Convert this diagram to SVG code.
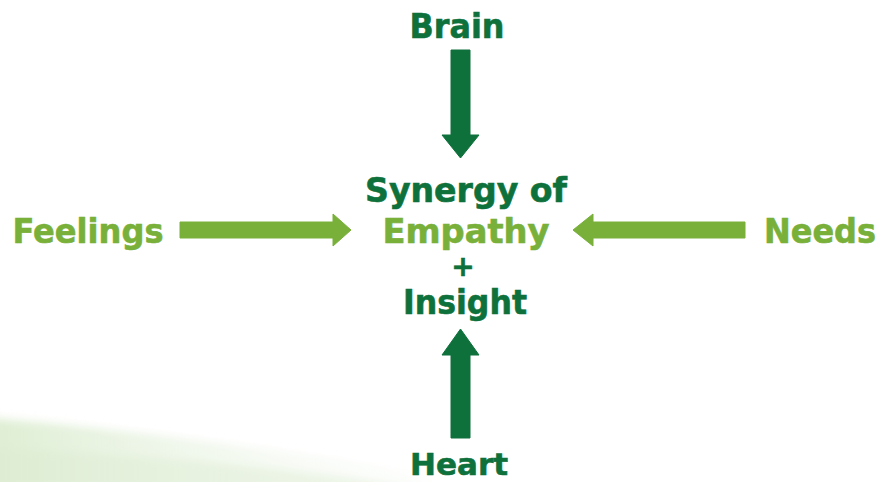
<svg xmlns="http://www.w3.org/2000/svg" width="881" height="482" viewBox="0 0 881 482">
  <defs>
    <linearGradient id="swoosh" x1="0" y1="0" x2="1" y2="0">
      <stop offset="0" stop-color="#d6e9c8" stop-opacity="0.8"/>
      <stop offset="0.45" stop-color="#e9f3e2" stop-opacity="0.5"/>
      <stop offset="1" stop-color="#ffffff" stop-opacity="0"/>
    </linearGradient>
    <filter id="soft" x="-10%" y="-50%" width="120%" height="200%">
      <feGaussianBlur stdDeviation="4"/>
    </filter>
    <style>
      .lbl { font-family: "DejaVu Sans", "Liberation Sans", sans-serif; font-weight: bold; text-anchor: middle; stroke-width: 0.6; }
      .dark { fill: #0e713c; stroke: #0e713c; }
      .light { fill: #78b03a; stroke: #78b03a; }
      polygon { stroke: none; }
    </style>
  </defs>

  <rect width="881" height="482" fill="#ffffff"/>
  <!-- soft background swoosh, lower left -->
  <g filter="url(#soft)">
    <path d="M-10,418 C120,428 300,452 540,490 L-10,490 Z" fill="url(#swoosh)"/>
    <path d="M-10,448 C150,455 300,468 430,490 L-10,490 Z" fill="#dcebd0" opacity="0.45"/>
  </g>

  <g id="center">
    <text class="lbl dark" x="466" y="202" font-size="33" textLength="202" lengthAdjust="spacingAndGlyphs">Synergy of</text>
    <text class="lbl light" x="466" y="243" font-size="33" textLength="167" lengthAdjust="spacingAndGlyphs">Empathy</text>
    <text class="lbl dark" x="463" y="276" font-size="28">+</text>
    <text class="lbl dark" x="465" y="314" font-size="33" textLength="124" lengthAdjust="spacingAndGlyphs">Insight</text>
  </g>

  <g id="brain">
    <text class="lbl dark" x="457" y="38" font-size="33" textLength="95" lengthAdjust="spacingAndGlyphs">Brain</text>
  </g>
  <g id="heart">
    <text class="lbl dark" x="459" y="475" font-size="31" textLength="98" lengthAdjust="spacingAndGlyphs">Heart</text>
  </g>
  <g id="feelings">
    <text class="lbl light" x="88" y="243" font-size="33" textLength="151" lengthAdjust="spacingAndGlyphs">Feelings</text>
  </g>
  <g id="needs">
    <text class="lbl light" x="820" y="243" font-size="33" textLength="112" lengthAdjust="spacingAndGlyphs">Needs</text>
  </g>

  <g id="connectors">
    <!-- Brain to centre -->
    <polygon class="dark" points="451,50 470,50 470,135 479,135 460.5,158 442,135 451,135"/>
    <!-- Heart to centre -->
    <polygon class="dark" points="451,438 470,438 470,355 479,355 460.5,329 442,355 451,355"/>
    <!-- Feelings to centre -->
    <polygon class="light" points="180,222 333,222 333,214 351,230 333,246 333,238 180,238"/>
    <!-- Needs to centre -->
    <polygon class="light" points="745,222 593,222 593,214 573,230 593,246 593,238 745,238"/>
  </g>
</svg>
